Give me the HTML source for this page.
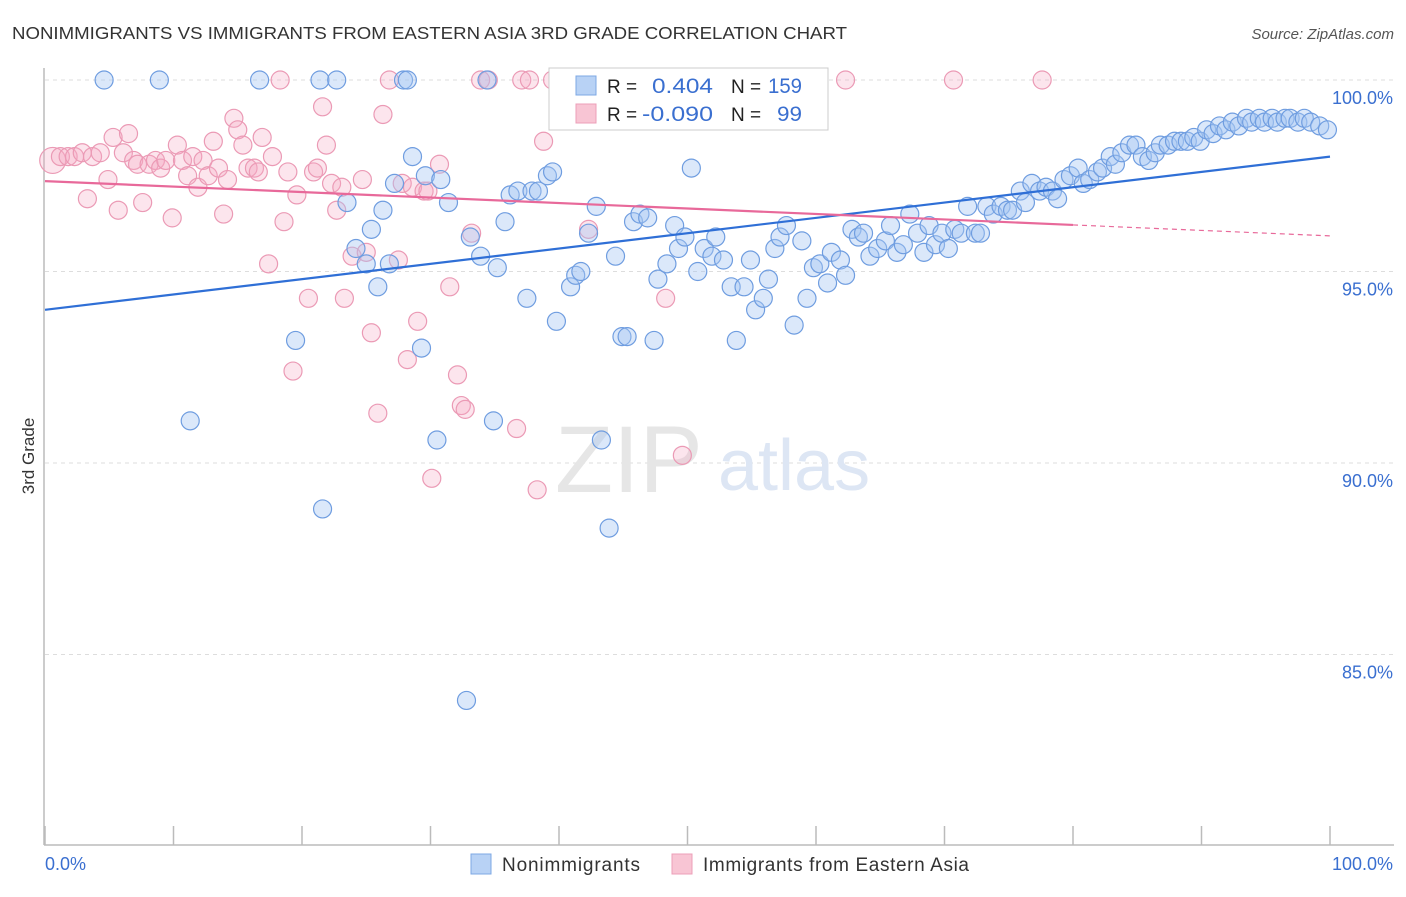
<!DOCTYPE html>
<html><head><meta charset="utf-8"><style>
body{margin:0;background:#fff;font-family:"Liberation Sans",sans-serif;}
svg text{font-family:"Liberation Sans",sans-serif;}
</style></head><body>
<svg id="chart" width="1406" height="892">
<text x="12" y="39" font-size="17.5" fill="#333" textLength="835" lengthAdjust="spacingAndGlyphs">NONIMMIGRANTS VS IMMIGRANTS FROM EASTERN ASIA 3RD GRADE CORRELATION CHART</text>
<text x="1394" y="39" font-size="15" fill="#555" font-style="italic" text-anchor="end">Source: ZipAtlas.com</text>
<text x="34" y="456" font-size="17" fill="#333" transform="rotate(-90 34 456)" text-anchor="middle">3rd Grade</text>
<g id="grid"></g>
<text x="555" y="492" font-size="95" fill="#e6e6e6" font-family="Liberation Serif">ZIP</text>
<text x="718" y="490" font-size="72" fill="#dde6f4">atlas</text>
<g id="pink"></g><g id="blue"></g><g id="lines"></g>
<g>
<rect x="549" y="68" width="279" height="62" fill="#fff" stroke="#ccc"/>
<rect x="576" y="76" width="20" height="19" fill="#b8d2f5" stroke="#7ea8e4"/>
<text x="607" y="93" font-size="19" fill="#222">R =</text>
<text x="652" y="93" font-size="21" fill="#3a6fd0" textLength="61" lengthAdjust="spacingAndGlyphs">0.404</text>
<text x="731" y="93" font-size="19" fill="#222">N =</text>
<text x="768" y="93" font-size="21" fill="#3a6fd0" textLength="34" lengthAdjust="spacingAndGlyphs">159</text>
<rect x="576" y="104" width="20" height="19" fill="#f8c5d4" stroke="#ec9fb8"/>
<text x="607" y="121" font-size="19" fill="#222">R =</text>
<text x="642" y="121" font-size="21" fill="#3a6fd0" textLength="71" lengthAdjust="spacingAndGlyphs">-0.090</text>
<text x="731" y="121" font-size="19" fill="#222">N =</text>
<text x="777" y="121" font-size="21" fill="#3a6fd0" textLength="25" lengthAdjust="spacingAndGlyphs">99</text>
</g>
<g>
<rect x="471" y="854" width="20" height="20" fill="#b8d2f5" stroke="#7ea8e4"/>
<text x="502" y="871" font-size="19" fill="#333" textLength="138">Nonimmigrants</text>
<rect x="672" y="854" width="20" height="20" fill="#f8c5d4" stroke="#ec9fb8"/>
<text x="703" y="871" font-size="19" fill="#333" textLength="266">Immigrants from Eastern Asia</text>
</g>
</svg>
<script>
const yTicks=[100,95,90,85];
const yTickLabels=["100.0%","95.0%","90.0%","85.0%"];
const xTickVals=[0,10,20,30,40,50,60,70,80,90,100];
const blueX=[4.6,8.9,16.7,21.4,22.7,27.9,28.2,34.4,11.3,19.5,21.6,23.5,24.2,25,25.4,25.9,26.3,26.8,27.2,28.6,29.3,29.6,30.5,30.8,31.4,32.8,33.1,33.9,34.9,35.2,35.8,36.2,36.8,37.5,37.9,38.4,39.1,39.5,39.8,40.9,41.3,41.7,42.3,42.9,43.3,43.9,44.4,44.9,45.3,45.8,46.3,46.9,47.4,47.7,48.4,49,49.3,49.8,50.3,50.8,51.3,51.9,52.2,52.8,53.4,53.8,54.4,54.9,55.3,55.9,56.3,56.8,57.2,57.7,58.3,58.9,59.3,59.8,60.3,60.9,61.2,61.9,62.3,62.8,63.3,63.7,64.2,64.8,65.4,65.8,66.3,66.8,67.3,67.9,68.4,68.8,69.3,69.8,70.3,70.8,71.3,71.8,72.4,72.8,73.3,73.8,74.4,74.9,75.3,75.9,76.3,76.8,77.4,77.9,78.4,78.8,79.3,79.8,80.4,80.8,81.3,81.9,82.3,82.9,83.3,83.8,84.4,84.9,85.4,85.9,86.4,86.8,87.4,87.9,88.4,88.9,89.4,89.9,90.4,90.9,91.4,91.9,92.4,92.9,93.5,93.9,94.5,94.9,95.5,95.9,96.5,96.9,97.5,98,98.5,99.2,99.8];
const blueY=[100,100,100,100,100,100,100,100,91.1,93.2,88.8,96.8,95.6,95.2,96.1,94.6,96.6,95.2,97.3,98.0,93.0,97.5,90.6,97.4,96.8,83.8,95.9,95.4,91.1,95.1,96.3,97.0,97.1,94.3,97.1,97.1,97.5,97.6,93.7,94.6,94.9,95.0,96.0,96.7,90.6,88.3,95.4,93.3,93.3,96.3,96.5,96.4,93.2,94.8,95.2,96.2,95.6,95.9,97.7,95.0,95.6,95.4,95.9,95.3,94.6,93.2,94.6,95.3,94.0,94.3,94.8,95.6,95.9,96.2,93.6,95.8,94.3,95.1,95.2,94.7,95.5,95.3,94.9,96.1,95.9,96.0,95.4,95.6,95.8,96.2,95.5,95.7,96.5,96.0,95.5,96.2,95.7,96.0,95.6,96.1,96.0,96.7,96.0,96.0,96.7,96.5,96.7,96.6,96.6,97.1,96.8,97.3,97.1,97.2,97.1,96.9,97.4,97.5,97.7,97.3,97.4,97.6,97.7,98.0,97.8,98.1,98.3,98.3,98.0,97.9,98.1,98.3,98.3,98.4,98.4,98.4,98.5,98.4,98.7,98.6,98.8,98.7,98.9,98.8,99.0,98.9,99.0,98.9,99.0,98.9,99.0,99.0,98.9,99.0,98.9,98.8,98.7];
const pinkX=[0.6,1.2,1.8,2.3,2.9,3.3,3.7,4.3,4.9,5.3,5.7,6.1,6.5,6.9,7.2,7.6,8.1,8.6,9,9.4,9.9,10.3,10.7,11.1,11.5,11.9,12.3,12.7,13.1,13.5,13.9,14.2,14.7,15,15.4,15.8,16.3,16.6,16.9,17.4,17.7,18.3,18.6,18.9,19.3,19.6,20.5,20.9,21.2,21.6,21.9,22.3,22.7,23.1,23.3,23.9,24.7,25,25.4,25.9,26.3,26.8,27.5,27.8,28.2,28.6,29,29.5,29.8,30.1,30.7,31.5,32.1,32.4,32.7,33.2,33.9,34.5,36.7,37.1,37.7,38.3,38.8,39.5,42.3,48.3,49.6,53.2,62.3,70.7,77.6,40.6,41.2];
const pinkY=[97.9,98.0,98.0,98.0,98.1,96.9,98.0,98.1,97.4,98.5,96.6,98.1,98.6,97.9,97.8,96.8,97.8,97.9,97.7,97.9,96.4,98.3,97.9,97.5,98.0,97.2,97.9,97.5,98.4,97.7,96.5,97.4,99.0,98.7,98.3,97.7,97.7,97.6,98.5,95.2,98.0,100,96.3,97.6,92.4,97.0,94.3,97.6,97.7,99.3,98.3,97.3,96.6,97.2,94.3,95.4,97.4,95.5,93.4,91.3,99.1,100,95.3,97.3,92.7,97.2,93.7,97.1,97.1,89.6,97.8,94.6,92.3,91.5,91.4,96.0,100,100,90.9,100,100,89.3,98.4,100,96.1,94.3,90.2,100,100,100,100,100,100];
const blueTrend=[94.0,98.0];
const pinkTrend=[97.36,95.93];
const pinkSolidEnd=80;
const NS='http://www.w3.org/2000/svg';
const X0=45,X1=1330;
function xs(v){return X0+(X1-X0)*v/100;}
function ys(v){return 80+(100-v)*38.3;}
function mk(tag,attrs,parent){const e=document.createElementNS(NS,tag);for(const k in attrs)e.setAttribute(k,attrs[k]);parent.appendChild(e);return e;}
const svg=document.getElementById('chart');
const grid=document.getElementById('grid');
yTicks.forEach((t,i)=>{
  const l=mk('line',{x1:X0,x2:1394,y1:ys(t),y2:ys(t),stroke:'#ddd','stroke-dasharray':'4,4'},grid);
  
  
  const tx=mk('text',{x:1393,y:ys(t)+24,'font-size':18,fill:'#3a6fd0','text-anchor':'end'},grid);
  tx.textContent=yTickLabels[i];
  
  
});
const ax=mk('line',{x1:X0-1,x2:X0-1,y1:68,y2:845,stroke:'#bbb','stroke-width':1.5},grid);


const bx=mk('line',{x1:X0-1,x2:1394,y1:845,y2:845,stroke:'#bbb','stroke-width':1.5},grid);


xTickVals.forEach(v=>{
  const t=mk('line',{x1:xs(v),x2:xs(v),y1:826,y2:845,stroke:'#bbb','stroke-width':1.5},grid);
  
  
});
const xl0=mk('text',{x:45,y:870,'font-size':18,fill:'#3a6fd0'},grid);xl0.textContent='0.0%';


const xl1=mk('text',{x:1393,y:870,'font-size':18,fill:'#3a6fd0','text-anchor':'end'},grid);xl1.textContent='100.0%';


const pg=document.getElementById('pink');
pinkX.forEach((v,i)=>{
  const c=mk('circle',{cx:xs(v),cy:ys(pinkY[i]),r:i==0?13:9,fill:'rgba(244,170,196,0.3)',stroke:'#eb9ab5','stroke-width':1.2},pg);
  
  
});
const bg=document.getElementById('blue');
blueX.forEach((v,i)=>{
  const c=mk('circle',{cx:xs(v),cy:ys(blueY[i]),r:9,fill:'rgba(164,198,242,0.4)',stroke:'#6f9de0','stroke-width':1.2},bg);
  
  
});
const lg=document.getElementById('lines');
const bl=mk('line',{x1:xs(0),y1:ys(blueTrend[0]),x2:xs(100),y2:ys(blueTrend[1]),stroke:'#2f6fd6','stroke-width':2.2},lg);


const pm=pinkTrend[0]+(pinkTrend[1]-pinkTrend[0])*pinkSolidEnd/100;
const pl=mk('line',{x1:xs(0),y1:ys(pinkTrend[0]),x2:xs(pinkSolidEnd),y2:ys(pm),stroke:'#e8699a','stroke-width':2.2},lg);


const pd=mk('line',{x1:xs(pinkSolidEnd),y1:ys(pm),x2:xs(100),y2:ys(pinkTrend[1]),stroke:'#e8699a','stroke-width':1.2,'stroke-dasharray':'5,4'},lg);


</script>
</body></html>
